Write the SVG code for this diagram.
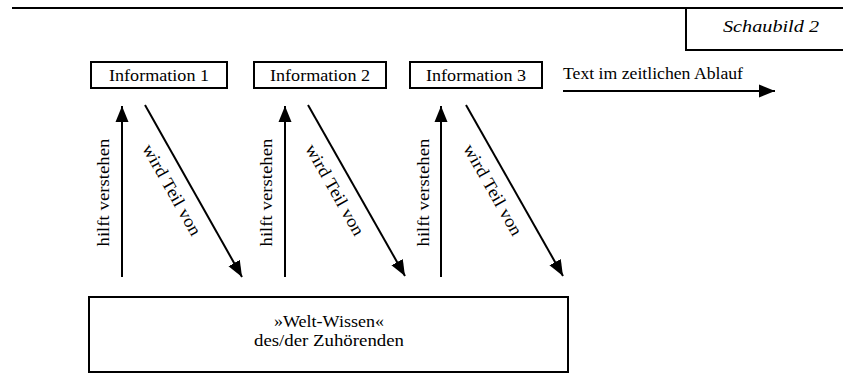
<svg xmlns="http://www.w3.org/2000/svg" width="843" height="374" viewBox="0 0 843 374">
<style>
  .t{font-family:'Liberation Serif','Times New Roman','DejaVu Serif',serif;font-size:17.5px;fill:#000}
  .box{fill:#fff;stroke:#000;stroke-width:2}
  .ln{stroke:#000;stroke-width:2;fill:none}
  .arr{stroke:#000;stroke-width:2;fill:none;marker-end:url(#ah)}
</style>
<defs>
  <marker id="ah" markerUnits="userSpaceOnUse" markerWidth="18" markerHeight="16" viewBox="0 0 18 16" refX="16" refY="8" orient="auto">
    <path d="M0,1.5 L16,8 L0,14.5 Z" fill="#000"/>
  </marker>
</defs>
<rect width="843" height="374" fill="#fff"/>
<g id="header">
  <line class="ln" x1="12" y1="8" x2="843" y2="8" stroke-width="2.5"/>
  <path class="ln" d="M686,8 V50 H845"/>
  <text class="t" font-family="Liberation Serif, serif" x="771" y="32" text-anchor="middle" font-style="italic" textLength="96" lengthAdjust="spacingAndGlyphs">Schaubild 2</text>
</g>
<g id="info1">
  <rect class="box" x="91" y="62" width="136" height="26"/>
  <text class="t" font-family="Liberation Serif, serif" x="159" y="80.5" text-anchor="middle" textLength="100" lengthAdjust="spacingAndGlyphs">Information 1</text>
</g>
<g id="info2">
  <rect class="box" x="254" y="62" width="132" height="26"/>
  <text class="t" font-family="Liberation Serif, serif" x="320" y="80.5" text-anchor="middle" textLength="100" lengthAdjust="spacingAndGlyphs">Information 2</text>
</g>
<g id="info3">
  <rect class="box" x="410" y="62" width="132" height="26"/>
  <text class="t" font-family="Liberation Serif, serif" x="476" y="80.5" text-anchor="middle" textLength="100" lengthAdjust="spacingAndGlyphs">Information 3</text>
</g>
<g id="timeline">
  <text class="t" font-family="Liberation Serif, serif" x="563" y="79" textLength="180" lengthAdjust="spacingAndGlyphs">Text im zeitlichen Ablauf</text>
</g>
<g id="weltwissen">
  <rect class="box" x="89" y="297" width="479" height="75"/>
  <text class="t" font-family="Liberation Serif, serif" x="329" y="327" text-anchor="middle" textLength="110" lengthAdjust="spacingAndGlyphs">»Welt-Wissen«</text>
  <text class="t" font-family="Liberation Serif, serif" x="329" y="346" text-anchor="middle" textLength="150" lengthAdjust="spacingAndGlyphs">des/der Zuhörenden</text>
</g>
<g id="connectors">
  <line class="arr" x1="563" y1="91" x2="775" y2="91"/>
  <line class="arr" x1="122" y1="277" x2="122" y2="106"/>
  <line class="arr" x1="285" y1="277" x2="285" y2="106"/>
  <line class="arr" x1="441" y1="277" x2="441" y2="106"/>
  <line class="arr" x1="145" y1="105" x2="242" y2="277"/>
  <line class="arr" x1="308" y1="105" x2="405" y2="276"/>
  <line class="arr" x1="466" y1="105" x2="563" y2="276"/>
  <text class="t" font-family="Liberation Serif, serif" transform="translate(108.5,192.5) rotate(-90)" text-anchor="middle" textLength="108" lengthAdjust="spacingAndGlyphs">hilft verstehen</text>
  <text class="t" font-family="Liberation Serif, serif" transform="translate(272,192.5) rotate(-90)" text-anchor="middle" textLength="108" lengthAdjust="spacingAndGlyphs">hilft verstehen</text>
  <text class="t" font-family="Liberation Serif, serif" transform="translate(429,192.5) rotate(-90)" text-anchor="middle" textLength="108" lengthAdjust="spacingAndGlyphs">hilft verstehen</text>
  <text class="t" font-family="Liberation Serif, serif" transform="translate(166.8,192.6) rotate(60.6)" text-anchor="middle" textLength="102" lengthAdjust="spacingAndGlyphs">wird Teil von</text>
  <text class="t" font-family="Liberation Serif, serif" transform="translate(329.8,192.6) rotate(60.6)" text-anchor="middle" textLength="102" lengthAdjust="spacingAndGlyphs">wird Teil von</text>
  <text class="t" font-family="Liberation Serif, serif" transform="translate(487.8,192.6) rotate(60.6)" text-anchor="middle" textLength="102" lengthAdjust="spacingAndGlyphs">wird Teil von</text>
</g>
</svg>
